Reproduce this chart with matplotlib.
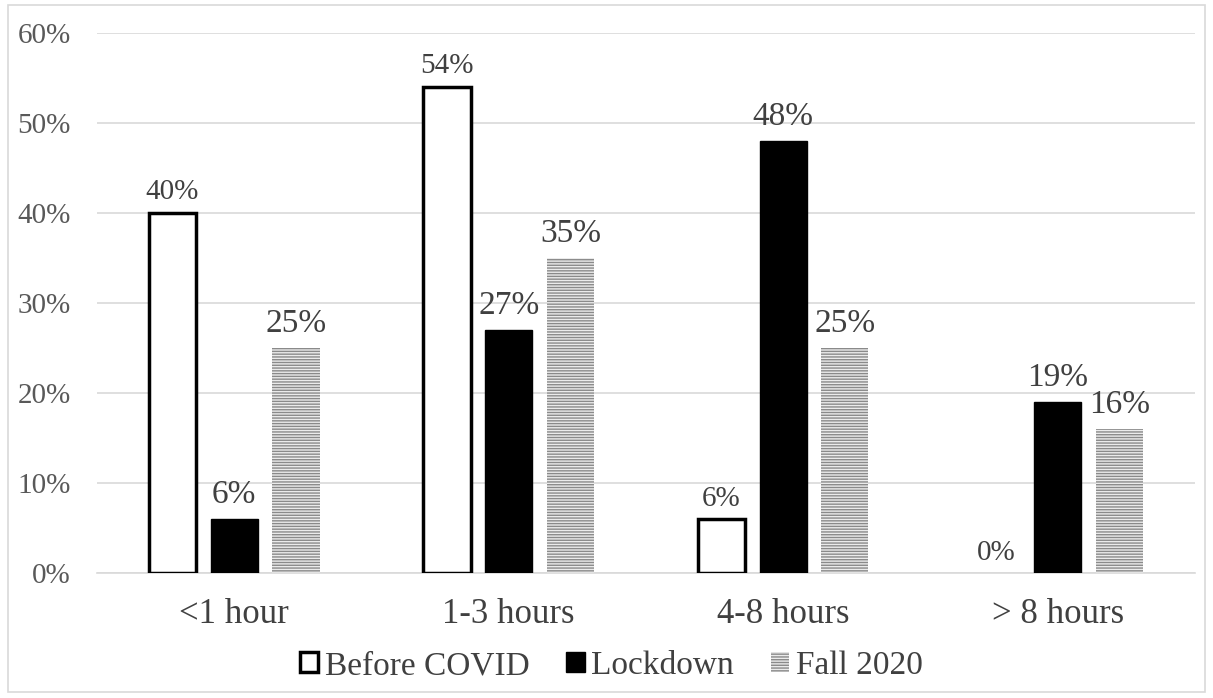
import matplotlib
matplotlib.use("Agg")
import matplotlib.pyplot as plt
from matplotlib.patches import Rectangle
import numpy as np

categories = ["<1 hour", "1-3 hours", "4-8 hours", "> 8 hours"]
series_names = ["Before COVID", "Lockdown", "Fall 2020"]
before_covid = [40, 54, 6, 0]
lockdown = [6, 27, 48, 19]
fall_2020 = [25, 35, 25, 16]
y_ticks = [0, 10, 20, 30, 40, 50, 60]

plt.rcParams['font.family'] = ['Liberation Serif', 'DejaVu Serif']
plt.rcParams['hatch.linewidth'] = 1.0

fig = plt.figure(figsize=(12.13, 6.98), dpi=100)
ax = fig.add_axes([0.080, 0.179, 0.905, 0.774])

x = np.arange(len(categories))
w = 0.172
off = 0.225
text_col = '#404040'
hatch_face = '#ebebeb'
hatch_line = '#8a8a8a'

b1 = ax.bar(x - off, before_covid, w, facecolor='white',
            edgecolor=['black' if v > 0 else 'none' for v in before_covid],
            linewidth=2.5, zorder=3)
b2 = ax.bar(x, lockdown, w, facecolor='black', edgecolor='black', linewidth=1, zorder=3)
b3 = ax.bar(x + off, fall_2020, w, facecolor=hatch_face, edgecolor=hatch_line,
            linewidth=0, hatch='------', zorder=3)

for xi, v in zip(x, before_covid):
    ax.text(xi - off, v + 1.5, f"{v}%", ha='center', va='baseline', fontsize=21, color=text_col)
for xi, v in zip(x, lockdown):
    ax.text(xi, v + 1.8, f"{v}%", ha='center', va='baseline', fontsize=24, color=text_col)
for xi, v in zip(x, fall_2020):
    ax.text(xi + off, v + 1.8, f"{v}%", ha='center', va='baseline', fontsize=24, color=text_col)

ax.set_ylim(0, 60)
ax.set_xlim(-0.5, 3.5)
ax.set_yticks(y_ticks)
ax.set_yticklabels([f"{t}%" for t in y_ticks], fontsize=21, color='#595959')
ax.set_xticks(x)
ax.set_xticklabels(categories, fontsize=25, color=text_col)
ax.tick_params(axis='both', length=0)
ax.tick_params(axis='y', pad=19)
ax.tick_params(axis='x', pad=18)
ax.grid(axis='y', color='#d9d9d9', linewidth=1.2, zorder=0)
for s in ['top', 'right', 'left']:
    ax.spines[s].set_visible(False)
ax.spines['bottom'].set_color('#d9d9d9')
ax.spines['bottom'].set_linewidth(1.2)

h1 = Rectangle((0, 0), 1, 1, facecolor='white', edgecolor='black', linewidth=2.5)
h2 = Rectangle((0, 0), 1, 1, facecolor='black', edgecolor='black')
h3 = Rectangle((0, 0), 1, 1, facecolor=hatch_face, edgecolor=hatch_line, linewidth=0, hatch='------')
leg = fig.legend([h1, h2, h3], series_names, loc='center', bbox_to_anchor=(0.504, 0.046), ncol=3,
                 frameon=False, fontsize=24, handlelength=0.55, handleheight=0.55,
                 handletextpad=0.2, columnspacing=1.1, borderaxespad=0, borderpad=0)
for t in leg.get_texts():
    t.set_color(text_col)

fig.patches.append(Rectangle((0.007, 0.008), 0.986, 0.985, transform=fig.transFigure,
                             facecolor='none', edgecolor='#d9d9d9', linewidth=1.2))

fig.savefig("out.png", dpi=100)
